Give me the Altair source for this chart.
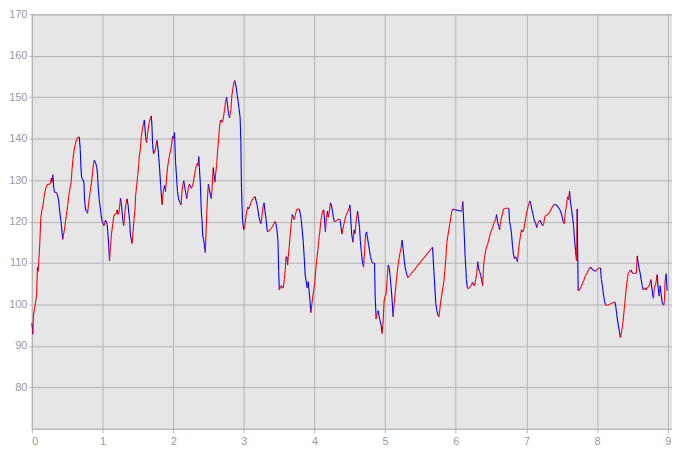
import altair as alt
import pandas as pd

# ---- data (x position, value) ----
time_a = [0.000, 0.009, 0.014, 0.023, 0.038, 0.052, 0.066, 0.080, 0.089, 0.103, 0.113, 0.127, 0.141, 0.160, 0.169,
          0.183, 0.197, 0.211, 0.230, 0.258, 0.277, 0.286, 0.296, 0.310, 0.324, 0.352, 0.376, 0.394, 0.413, 0.427,
          0.437, 0.451, 0.469, 0.488, 0.507, 0.521, 0.535, 0.549, 0.559, 0.568, 0.582, 0.596, 0.610, 0.629, 0.643,
          0.671, 0.685, 0.695, 0.704, 0.718, 0.737, 0.746, 0.761, 0.775, 0.789, 0.803, 0.812, 0.826, 0.845, 0.859,
          0.869, 0.883, 0.892, 0.906, 0.920, 0.930, 0.939, 0.953, 0.967, 0.981, 0.995, 1.009, 1.023, 1.038, 1.052,
          1.066, 1.075, 1.089, 1.099, 1.113, 1.127, 1.146, 1.160, 1.178, 1.197, 1.207, 1.221, 1.235, 1.254, 1.272,
          1.286, 1.300, 1.315, 1.333, 1.347, 1.362, 1.371, 1.385, 1.394, 1.408, 1.418, 1.432, 1.446, 1.460, 1.469,
          1.484, 1.498, 1.512, 1.521, 1.535, 1.549, 1.573, 1.592]
value_a = [95.5, 94, 92.8, 97.5, 99, 100.5, 102, 109, 108, 111.8, 115, 121, 122.6, 124, 125.5,
           127, 128, 128.7, 129, 129, 130.5, 129.5, 131.3, 128, 127, 127, 125.5, 122.5, 120, 117.4,
           115.7, 117, 119, 121.5, 123.8, 126, 127.6, 128.7, 130, 132.5, 135, 137, 138.3, 139.5, 140.2,
           140.4, 137.4, 133, 130.7, 130.2, 129.5, 125.2, 122.8, 122.5, 122, 124.4, 125.5, 127.3, 129.5, 131.9,
           133.5, 134.8, 134.5, 134, 133, 131.3, 128.3, 125.3, 123.5, 121.5, 120, 119.5, 119, 120.3, 120,
           119.3, 117.5, 114, 110.5, 114, 117, 119.5, 121.3, 121.8, 122, 122.8, 121.7, 122.5, 125.6, 123.5,
           120.5, 119, 122, 124.4, 125.5, 124, 122.3, 120, 117, 115.5, 114.7, 117.5, 120.5, 123, 126.4,
           128.7, 131.1, 133.5, 135.8, 137.4, 140.5, 143, 144.5]

time_b = [1.610, 1.624, 1.638, 1.653, 1.667, 1.681, 1.690, 1.700, 1.709, 1.723, 1.746, 1.770, 1.789, 1.808, 1.822,
          1.836, 1.845, 1.859, 1.878, 1.892, 1.906, 1.920, 1.934, 1.948, 1.962, 1.977, 1.991, 2.005, 2.019, 2.033,
          2.047, 2.061, 2.080, 2.099, 2.113, 2.122, 2.136, 2.150, 2.164, 2.178, 2.192, 2.202, 2.216, 2.230, 2.244,
          2.258, 2.272, 2.286, 2.300, 2.315, 2.329, 2.343, 2.352, 2.362, 2.371, 2.385, 2.399, 2.408, 2.418, 2.432,
          2.441, 2.455, 2.474, 2.488, 2.498, 2.512, 2.526, 2.540, 2.549, 2.559, 2.568, 2.577, 2.592, 2.601, 2.615,
          2.629, 2.643, 2.657, 2.671, 2.685, 2.700, 2.714, 2.728, 2.742, 2.756, 2.770, 2.784, 2.798, 2.817, 2.831,
          2.845, 2.859, 2.873]
value_b = [140.5, 139, 141.3, 143, 144.5, 145, 145.5, 143, 138.5, 136.3, 137.3, 139.6, 137, 132.7, 129,
           125.7, 124, 127.3, 128.7, 127.2, 130.5, 133, 134.5, 136, 137, 138.5, 140.5, 140, 141.5, 134.5,
           131, 127.2, 125.2, 124.5, 124, 126.8, 128.8, 129.8, 128.2, 127, 125.5, 126.5, 128.2, 129, 128.5,
           128, 128.5, 129.5, 131, 132.5, 133.5, 134, 133.5, 135.7, 133, 129, 122, 120.5, 116.5, 115.7,
           114.5, 112.5, 121.5, 126.5, 129, 127.8, 126.5, 125.5, 127.5, 131, 133, 131.5, 129.5, 131.5, 133.5,
           137, 140, 143, 144.5, 144, 144, 145.5, 147, 149, 150, 148, 146, 145, 147, 150.5,
           152, 153.5, 154]

time_c = [2.878, 2.892, 2.906, 2.920, 2.934, 2.948, 2.958, 2.967, 2.981, 2.991, 3.000, 3.014, 3.028, 3.042, 3.056,
          3.070, 3.085, 3.099, 3.113, 3.127, 3.141, 3.160, 3.174, 3.188, 3.202, 3.216, 3.230, 3.244, 3.258, 3.272,
          3.286, 3.300, 3.315, 3.329, 3.338, 3.352, 3.366, 3.380, 3.394, 3.408, 3.427, 3.441, 3.455, 3.469, 3.484,
          3.493, 3.502, 3.516, 3.531, 3.545, 3.559, 3.573, 3.587, 3.596, 3.610, 3.620, 3.629, 3.643, 3.657, 3.671,
          3.685, 3.700, 3.714, 3.728, 3.742, 3.756, 3.770, 3.784, 3.798, 3.812, 3.826, 3.840, 3.854, 3.869, 3.883,
          3.897, 3.911, 3.925, 3.939, 3.948, 3.962, 3.977, 3.991, 4.005, 4.019, 4.033, 4.047, 4.061, 4.075, 4.089,
          4.103, 4.117, 4.131, 4.155, 4.169, 4.183, 4.197, 4.211, 4.225, 4.239, 4.254, 4.268, 4.282, 4.296, 4.315,
          4.333, 4.362, 4.376, 4.390, 4.404, 4.418, 4.432, 4.446, 4.460, 4.474, 4.488, 4.502]
value_c = [153.5, 152.5, 150.5, 149, 147, 145, 139, 128, 120.5, 119, 118, 119, 121, 122.5, 123.5,
           123, 123.8, 124.5, 125, 125.5, 125.8, 126, 125, 124, 122.5, 121, 120, 119.5, 121.5, 123.5,
           124.5, 122.5, 120.5, 118, 117.5, 117.7, 118, 118.2, 118.5, 119, 119.5, 120, 119.5, 118, 115,
           108, 103.5, 104, 104.5, 104, 104, 106, 108.5, 111.5, 111.5, 109.5, 111.5, 114, 117, 119.5,
           121.7, 121, 120.5, 121.5, 122.5, 123, 123, 123, 122, 120.5, 118, 115.5, 111.5, 107, 105.5,
           104, 105.5, 103, 100.5, 98, 100, 102, 103.5, 105.5, 108.5, 111, 113, 115.5, 117.5, 120,
           121.5, 122.5, 122.8, 117.5, 121, 122.5, 121, 122.5, 124.5, 124, 122.5, 121, 120, 120, 120.3,
           120.5, 120.5, 118.5, 117, 118.5, 119.5, 120.5, 121.5, 122, 122.5, 123, 124]

time_d = [4.526, 4.545, 4.559, 4.573, 4.592, 4.610, 4.624, 4.638, 4.648, 4.662, 4.676, 4.695, 4.709, 4.723, 4.737,
          4.751, 4.765, 4.779, 4.793, 4.808, 4.822, 4.850, 4.859, 4.873, 4.887, 4.901, 4.915, 4.930, 4.944, 4.958,
          4.972, 4.986, 5.000, 5.014, 5.028, 5.042, 5.056, 5.070, 5.085, 5.099, 5.113, 5.127, 5.141, 5.155, 5.169,
          5.183, 5.197, 5.211, 5.225, 5.239, 5.254, 5.268, 5.282, 5.296, 5.310, 5.324, 5.671]
value_d = [117, 115, 118, 117, 120.5, 122.5, 120.5, 118.5, 115.5, 113, 110.5, 109, 113, 117, 117.5,
           116, 114.5, 113, 111.5, 110.5, 110, 110, 102, 96.5, 98, 98.5, 97, 96, 95, 93,
           96, 101, 102, 102.5, 106, 109.5, 109, 107, 104, 101, 97, 100, 102.5, 105, 107.5,
           109.5, 111, 112.5, 113.5, 115.5, 113.5, 111, 109, 108, 107, 106.5, 113.8]

time_e = [5.690, 5.704, 5.718, 5.732, 5.746, 5.761, 5.775, 5.789, 5.803, 5.817, 5.831, 5.845, 5.859, 5.873, 5.887,
          5.901, 5.915, 5.930, 5.944, 5.958, 5.972, 6.000, 6.028, 6.056, 6.085, 6.099, 6.117, 6.131, 6.150, 6.164,
          6.178, 6.192, 6.207, 6.221, 6.235, 6.249, 6.263, 6.282, 6.296, 6.310, 6.324, 6.338, 6.352, 6.366, 6.380,
          6.394, 6.408, 6.423, 6.437, 6.451, 6.465, 6.479, 6.493, 6.507, 6.521, 6.535, 6.549, 6.563, 6.577, 6.596,
          6.610, 6.620, 6.634, 6.648, 6.662, 6.676, 6.704, 6.728, 6.751, 6.761, 6.775, 6.789, 6.803, 6.817, 6.831,
          6.845, 6.859, 6.873, 6.887, 6.901, 6.915, 6.930, 6.944, 6.962, 6.977, 6.991, 7.005, 7.019, 7.033, 7.047,
          7.061, 7.075, 7.089, 7.103, 7.117, 7.131, 7.146, 7.160, 7.174, 7.188, 7.202, 7.216, 7.230, 7.244, 7.258,
          7.272]
value_e = [108, 104, 100, 98.5, 97.5, 97, 99, 101, 102.5, 104, 105.5, 108, 111, 115, 116.5,
           118, 119.5, 121, 122.5, 123, 122.9, 122.8, 122.7, 122.6, 122.5, 124.8, 118, 112, 106, 104,
           103.8, 104, 104.3, 104.6, 105.3, 105, 104.5, 106, 107.5, 110.3, 108.5, 108, 107, 106, 104.5,
           109.5, 111.5, 113, 114, 114.5, 115.5, 116.5, 117.3, 118, 118.5, 119.5, 120, 120.5, 121.7, 119.5,
           118.8, 118, 120, 121, 122, 123, 123.2, 123.2, 123.2, 120, 118.8, 117, 114, 112, 111,
           111.5, 111, 110.3, 113, 115, 116.5, 118, 117.5, 118, 119.5, 121, 122.3, 123.3, 124.2, 125,
           124.3, 123, 122, 120.8, 120, 119.5, 118.5, 119.5, 120, 120.3, 120, 119.3, 119, 119.5, 121,
           121.5]

time_f = [7.282, 7.305, 7.329, 7.352, 7.376, 7.390, 7.423, 7.446, 7.469, 7.493, 7.507, 7.521, 7.535, 7.549, 7.563,
          7.577, 7.587, 7.596, 7.610, 7.624, 7.638, 7.653, 7.667, 7.681, 7.695, 7.709, 7.718, 7.732, 7.751, 7.775,
          7.812, 7.836, 7.859, 7.883, 7.906, 7.930, 7.953, 7.977, 8.000, 8.023, 8.047, 8.061, 8.075, 8.089, 8.103,
          8.117, 8.131, 8.150, 8.174, 8.197, 8.221, 8.244, 8.258, 8.272, 8.286, 8.300, 8.315, 8.329, 8.343, 8.357,
          8.371, 8.385, 8.399, 8.413, 8.427, 8.441, 8.460, 8.479, 8.502, 8.526, 8.554, 8.568, 8.582, 8.596, 8.610,
          8.624, 8.638, 8.653, 8.667, 8.681, 8.695, 8.709, 8.737, 8.761, 8.775, 8.789, 8.798, 8.812, 8.826, 8.850,
          8.864, 8.878, 8.892, 8.906, 8.920, 8.934, 8.944, 8.953, 8.962, 8.977, 8.991]
value_f = [121.5, 121.8, 122.3, 123, 123.8, 124.1, 124, 123.5, 123, 122, 121, 120, 119.5, 122, 123.5,
           125.3, 126, 125.3, 127.3, 124.5, 123, 121, 119, 115.5, 113, 110.5, 123, 103.3, 103.5, 104.3,
           105.8, 107, 107.6, 108.5, 109, 108.5, 108.2, 108, 108.4, 108.8, 108.8, 106, 104.5, 102.5, 101,
           100, 99.8, 99.8, 100, 100.2, 100.4, 100.6, 100.3, 98.5, 96.5, 95, 93.5, 92, 93, 94.5,
           96.5, 99, 101.5, 104, 106, 107.5, 108, 108.3, 107.5, 107.5, 107.5, 111.7, 110, 108.5, 107.5,
           106, 104.5, 103.5, 103.8, 104, 103.5, 104, 104.5, 106, 104, 102, 101.5, 104.5, 104.5, 107.2,
           104, 102, 104.5, 102.5, 100.5, 100, 99.8, 101, 105.6, 107.4, 103.3]

x_ticks = [0, 1, 2, 3, 4, 5, 6, 7, 8, 9]
y_ticks = [80, 90, 100, 110, 120, 130, 140, 150, 160, 170]
x_domain = [0, 9.06]
y_domain = [70, 170]

# ---- build segment table ----
t = time_a + time_b + time_c + time_d + time_e + time_f
v = value_a + value_b + value_c + value_d + value_e + value_f
seg = pd.DataFrame({
    "i": range(len(t) - 1),
    "x": t[:-1], "y": v[:-1],
    "x2": t[1:], "y2": v[1:],
})
seg["dir"] = ["up" if b >= a else "down" for a, b in zip(v[:-1], v[1:])]

grid_col = "#b4b4b4"
lab_col = "#999999"

chart = alt.Chart(seg).mark_rule(strokeWidth=1.1).encode(
    x=alt.X("x:Q", scale=alt.Scale(domain=x_domain, nice=False, zero=False),
            axis=alt.Axis(values=x_ticks, title=None, format="d", tickSize=4, labelPadding=3)),
    y=alt.Y("y:Q", scale=alt.Scale(domain=y_domain, nice=False, zero=False),
            axis=alt.Axis(values=y_ticks, title=None, format="d", tickSize=3, labelPadding=2)),
    x2="x2:Q",
    y2="y2:Q",
    color=alt.Color("dir:N", scale=alt.Scale(domain=["up", "down"], range=["#ff0000", "#0000ff"]), legend=None),
    order="i:Q",
).properties(
    width=644,
    height=417,
    autosize=alt.AutoSizeParams(type="none"),
    padding={"left": 24, "top": 5, "right": 0, "bottom": 18},
).configure_view(
    fill="#e6e6e6", stroke=grid_col, strokeWidth=1
).configure_axis(
    grid=True, gridColor=grid_col, gridWidth=1, gridOpacity=1,
    domainColor=grid_col, tickColor=grid_col,
    labelFont="Liberation Sans", labelFontSize=11, labelColor=lab_col,
)

chart.save("out.html", embed_options={"renderer": "svg", "actions": False})
